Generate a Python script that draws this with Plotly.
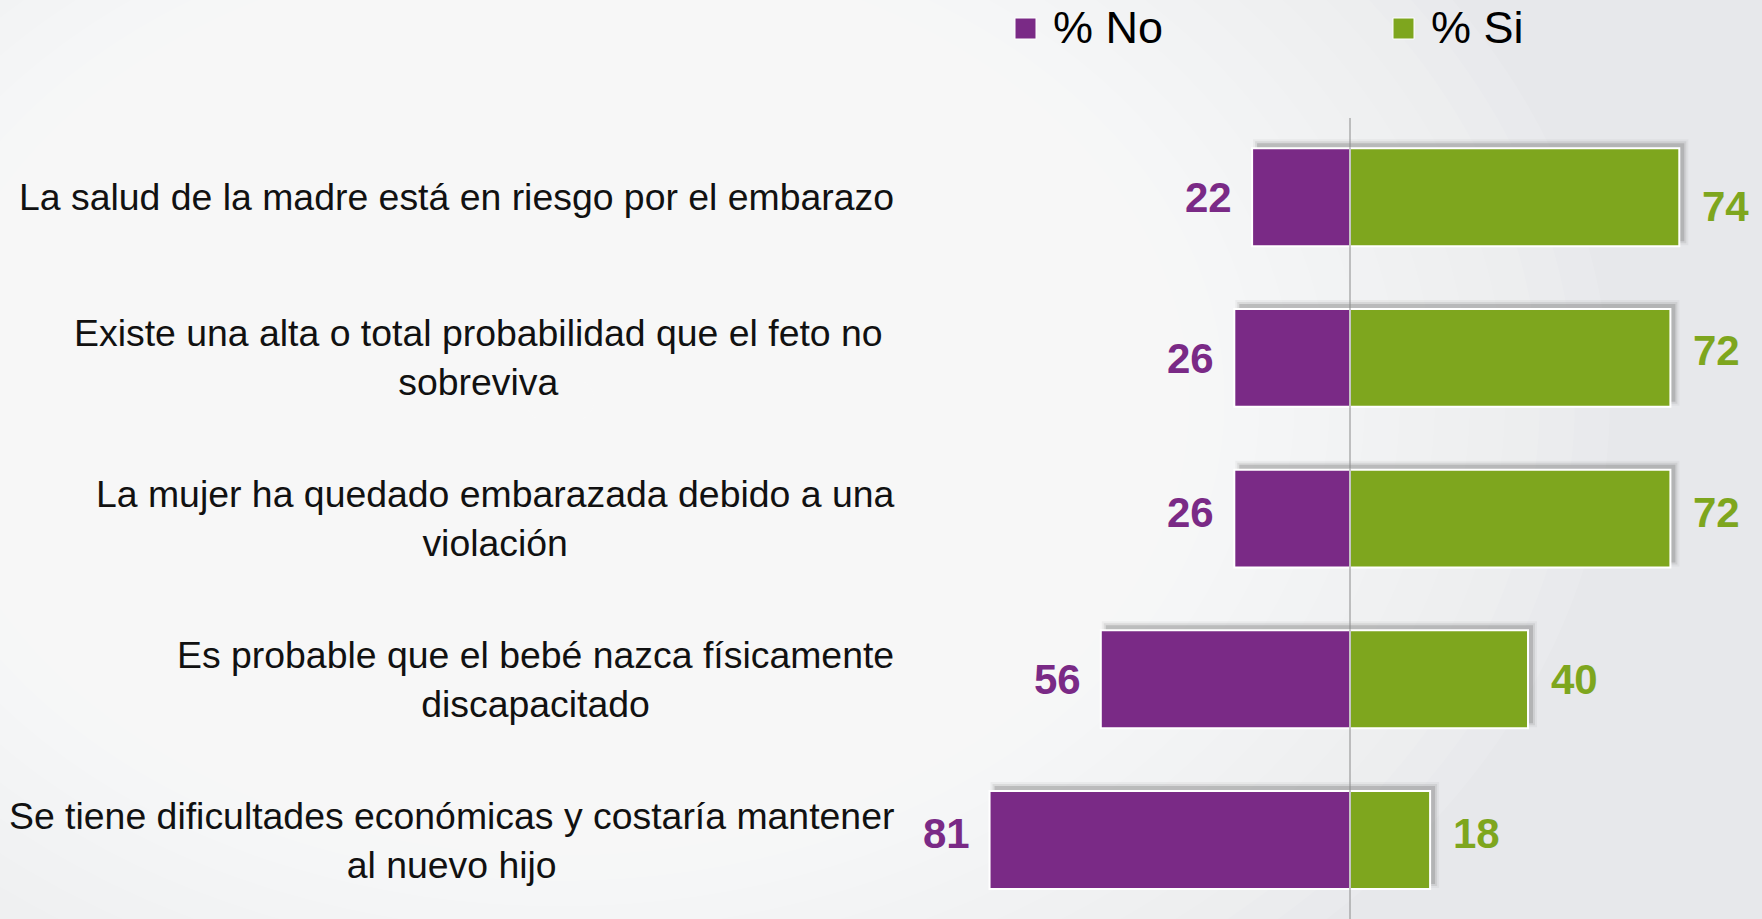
import plotly.graph_objects as go

# ---- data ----
categories = [
    "La salud de la madre está en riesgo por el embarazo",
    "Existe una alta o total probabilidad que el feto no<br>sobreviva",
    "La mujer ha quedado embarazada debido a una<br>violación",
    "Es probable que el bebé nazca físicamente<br>discapacitado",
    "Se tiene dificultades económicas y costaría mantener<br>al nuevo hijo",
]
pct_no = [22, 26, 26, 56, 81]
pct_si = [74, 72, 72, 40, 18]
series_names = ["% No", "% Si"]

# ---- style ----
W, H = 1762, 919
PURPLE = "#7a2a86"
GREEN = "#7ea61e"
BG = "#e7e8eb"
FONT = "Liberation Sans, Arial, sans-serif"
BAR_W = 0.609
PX_PER_X = 4.45      # pixels per percent unit
PX_PER_Y = 160.7     # pixels per category step
LABEL_FS = 37.4
label_xshift = [0, -11, 0, 0, 0]
no_yshift = [0, -1, 6.5, 0, 7]
si_yshift = [-9, 7, 6.5, 0, 7]

ypos = list(range(len(categories)))
neg_no = [-v for v in pct_no]

fig = go.Figure()
fig.add_trace(go.Bar(
    y=ypos, x=neg_no, orientation="h", name=series_names[0], width=BAR_W,
    marker=dict(color=PURPLE, line=dict(color="white", width=2)),
    hoverinfo="skip", showlegend=False,
))
fig.add_trace(go.Bar(
    y=ypos, x=pct_si, orientation="h", name=series_names[1], width=BAR_W,
    marker=dict(color=GREEN, line=dict(color="white", width=2)),
    hoverinfo="skip", showlegend=False,
))

shapes = []
# radial background glow
cx, cy = 560, 400
rx, ry = 1050, 760
N = 30
for k in range(N):
    s = 1 - k / N
    shapes.append(dict(
        type="circle", xref="paper", yref="paper", layer="below",
        x0=(cx - rx * s) / W, x1=(cx + rx * s) / W,
        y0=1 - (cy + ry * s) / H, y1=1 - (cy - ry * s) / H,
        fillcolor="white", opacity=0.1, line=dict(width=0),
    ))

# soft drop shadows behind bars
dx = 5 / PX_PER_X
dy = 5 / PX_PER_Y
for i, (n, p) in enumerate(zip(pct_no, pct_si)):
    for grow, op in [(0, 0.28), (2, 0.14), (4, 0.07)]:
        gx = grow / PX_PER_X
        gy = grow / PX_PER_Y
        shapes.append(dict(
            type="rect", xref="x", yref="y", layer="below",
            x0=-n + dx - gx, x1=p + dx + gx,
            y0=i - BAR_W / 2 - dy - gy, y1=i + BAR_W / 2 - dy + gy,
            fillcolor="#6e6e6e", opacity=op, line=dict(width=0),
        ))

# zero line
shapes.append(dict(
    type="line", xref="x", yref="y", layer="above",
    x0=0, x1=0, y0=-0.493, y1=4.6,
    line=dict(color="#8a8a8a", width=1),
))

# legend squares
leg = [(1015, PURPLE), (1393, GREEN)]
for x0, c in leg:
    shapes.append(dict(
        type="rect", xref="paper", yref="paper",
        x0=x0 / W, x1=(x0 + 21) / W, y0=1 - 39 / H, y1=1 - 18 / H,
        fillcolor=c, line=dict(color="white", width=1),
    ))

annotations = []
# legend text
for (x0, c), name in zip(leg, series_names):
    annotations.append(dict(
        x=(x0 + 36) / W, y=1 - 28 / H, xref="paper", yref="paper",
        text=name, showarrow=False, xanchor="left", yanchor="middle",
        font=dict(family=FONT, size=45, color="#000000"),
    ))

# category labels
for i, cat in enumerate(categories):
    annotations.append(dict(
        x=896 / W, y=i, xref="paper", yref="y", text=cat, showarrow=False,
        xanchor="right", yanchor="middle", align="center",
        xshift=label_xshift[i],
        font=dict(family=FONT, size=LABEL_FS, color="#111111"),
    ))

# value labels
for i, (n, p) in enumerate(zip(pct_no, pct_si)):
    annotations.append(dict(
        x=-n, y=i, xref="x", yref="y", text=f"<b>{n}</b>", showarrow=False,
        xanchor="right", yanchor="middle", xshift=-18, yshift=no_yshift[i],
        font=dict(family=FONT, size=42, color=PURPLE),
    ))
    annotations.append(dict(
        x=p, y=i, xref="x", yref="y", text=f"<b>{p}</b>", showarrow=False,
        xanchor="left", yanchor="middle", xshift=21, yshift=si_yshift[i],
        font=dict(family=FONT, size=42, color=GREEN),
    ))

zero_px = 1350
fig.update_layout(
    width=W, height=H, autosize=False,
    margin=dict(l=0, r=0, t=0, b=0, pad=0),
    paper_bgcolor=BG, plot_bgcolor=BG,
    barmode="relative",
    xaxis=dict(range=[-zero_px / PX_PER_X, (W - zero_px) / PX_PER_X],
               visible=False, fixedrange=True),
    yaxis=dict(range=[(H - 197.2) / PX_PER_Y, -197.2 / PX_PER_Y],
               visible=False, fixedrange=True),
    shapes=shapes, annotations=annotations,
    showlegend=False,
)

fig.write_html(
    "out.html",
    config={"displayModeBar": False},
    post_script="document.body.style.margin='0';document.body.style.padding='0';"
                "document.body.style.overflow='hidden';"
                "document.body.style.background='" + BG + "';",
)
